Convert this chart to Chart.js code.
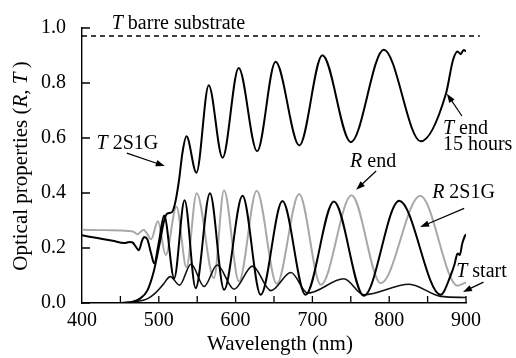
<!DOCTYPE html>
<html>
<head>
<meta charset="utf-8">
<script src="https://cdn.jsdelivr.net/npm/chart.js@4.4.0/dist/chart.umd.min.js"></script>
<style>
  html, body { margin: 0; padding: 0; background: #fff; }
  #wrap { width: 516px; height: 358px; }
</style>
</head>
<body>
<div id="wrap"><canvas id="spectra" width="516" height="358"></canvas></div>
<script>
// Values (wavelength in nm, optical property 0..1)
const substrateWl = [400, 918];
const substrateT  = [0.971, 0.971];

const tEndWl  = [450, 465, 475, 485, 493, 497, 502, 507, 511, 517, 521, 526, 531, 536, 549, 565, 583, 604, 628, 652, 683, 713, 750, 793, 841, 874, 883, 889, 893, 897, 900];
const tEndVal = [0.0, 0.004, 0.015, 0.045, 0.11, 0.16, 0.23, 0.30, 0.325, 0.33, 0.36, 0.44, 0.55, 0.606, 0.474, 0.792, 0.528, 0.855, 0.552, 0.877, 0.573, 0.901, 0.585, 0.921, 0.588, 0.762, 0.883, 0.915, 0.905, 0.92, 0.915];

const tStartWl  = [450, 470, 485, 495, 505, 515, 527, 542, 559, 576, 598, 622, 646, 672, 694, 741, 767, 826, 867, 900];
const tStartVal = [0.0, 0.005, 0.015, 0.035, 0.065, 0.096, 0.065, 0.142, 0.06, 0.138, 0.05, 0.134, 0.045, 0.111, 0.036, 0.088, 0.03, 0.068, 0.024, 0.02];

const r2s1gWl  = [400, 420, 440, 455, 462, 466, 470, 474, 478, 481, 485, 490, 494, 500, 507, 520, 533.6, 548, 566.6, 585, 609, 632.7, 661, 691, 728, 767, 813, 867, 880, 885, 889, 892, 895, 898, 900];
const r2s1gVal = [0.246, 0.236, 0.226, 0.218, 0.222, 0.22, 0.205, 0.192, 0.225, 0.24, 0.232, 0.18, 0.144, 0.22, 0.318, 0.09, 0.374, 0.054, 0.399, 0.048, 0.39, 0.03, 0.371, 0.03, 0.369, 0.026, 0.372, 0.03, 0.10, 0.14, 0.18, 0.175, 0.215, 0.24, 0.25];

const rEndWl  = [400, 430, 460, 468, 472, 476, 480, 484, 490, 498.8, 509, 523, 536, 549.3, 571.8, 584.9, 604.4, 627.5, 653.6, 682.7, 711, 751, 789, 840.4, 889, 900];
const rEndVal = [0.266, 0.265, 0.262, 0.258, 0.25, 0.258, 0.266, 0.255, 0.232, 0.297, 0.175, 0.35, 0.13, 0.399, 0.09, 0.41, 0.078, 0.408, 0.07, 0.396, 0.066, 0.392, 0.072, 0.39, 0.063, 0.075];

const xTickLabels = [400, 500, 600, 700, 800, 900];
const xTickMarks  = [450, 500, 550, 600, 650, 700, 750, 800, 850, 900];
const yTickLabels = [0, 0.2, 0.4, 0.6, 0.8, 1.0];

const serif = 'Liberation Serif';

function pts(xs, ys) {
  return xs.map((x, i) => ({ x: x, y: ys[i] }));
}

// text labels with arrows, anchored in data units
const notes = [
  { parts: [['T', 1], [' barre substrate', 0]], at: [438.7, 0.996] },
  { parts: [['T', 1], [' 2S1G', 0]], at: [419, 0.559], arrow: [[458.4, 0.545], [507.8, 0.498]] },
  { parts: [['R', 1], [' end', 0]], at: [749, 0.495], arrow: [[783, 0.48], [757, 0.412]] },
  { parts: [['R', 1], [' 2S1G', 0]], at: [855.9, 0.381], arrow: [[897.6, 0.344], [840.3, 0.276]] },
  { parts: [['T', 1], [' end', 0]], at: [869.9, 0.614], arrow: [[894.7, 0.68], [875.1, 0.761]] },
  { parts: [['15 hours', 0]], at: [869.9, 0.556] },
  { parts: [['T', 1], [' start', 0]], at: [887.2, 0.094], arrow: [[922.8, 0.076], [896, 0.04]] }
];

function richText(ctx, parts, x, y, size, centered) {
  let w = 0;
  parts.forEach(p => {
    ctx.font = (p[1] ? 'italic ' : '') + size + 'px "' + serif + '"';
    w += ctx.measureText(p[0]).width;
  });
  let cx = centered ? x - w / 2 : x;
  parts.forEach(p => {
    ctx.font = (p[1] ? 'italic ' : '') + size + 'px "' + serif + '"';
    ctx.fillText(p[0], cx, y);
    cx += ctx.measureText(p[0]).width;
  });
}

function arrow(ctx, x1, y1, x2, y2) {
  const a = Math.atan2(y2 - y1, x2 - x1);
  const L = 9, W = 3.2;
  ctx.beginPath();
  ctx.moveTo(x1, y1);
  ctx.lineTo(x2 - L * 0.8 * Math.cos(a), y2 - L * 0.8 * Math.sin(a));
  ctx.stroke();
  ctx.beginPath();
  ctx.moveTo(x2, y2);
  ctx.lineTo(x2 - L * Math.cos(a) + W * Math.sin(a), y2 - L * Math.sin(a) - W * Math.cos(a));
  ctx.lineTo(x2 - L * Math.cos(a) - W * Math.sin(a), y2 - L * Math.sin(a) + W * Math.cos(a));
  ctx.closePath();
  ctx.fill();
}

const decorations = {
  id: 'decorations',
  afterDraw(chart) {
    const ctx = chart.ctx;
    const xs = chart.scales.x, ys = chart.scales.y;
    const area = chart.chartArea;
    ctx.save();
    ctx.strokeStyle = '#000';
    ctx.fillStyle = '#000';
    ctx.lineWidth = 1.3;

    // inward tick marks
    ctx.beginPath();
    xTickMarks.forEach(v => {
      const px = xs.getPixelForValue(v);
      ctx.moveTo(px, area.bottom);
      ctx.lineTo(px, area.bottom - 7);
    });
    yTickLabels.forEach(v => {
      const py = ys.getPixelForValue(v);
      ctx.moveTo(area.left, py);
      ctx.lineTo(area.left + 8, py);
    });
    ctx.stroke();

    // annotations
    ctx.textBaseline = 'alphabetic';
    ctx.lineWidth = 1.2;
    notes.forEach(n => {
      richText(ctx, n.parts, xs.getPixelForValue(n.at[0]), ys.getPixelForValue(n.at[1]), 20, false);
      if (n.arrow) {
        arrow(ctx,
          xs.getPixelForValue(n.arrow[0][0]), ys.getPixelForValue(n.arrow[0][1]),
          xs.getPixelForValue(n.arrow[1][0]), ys.getPixelForValue(n.arrow[1][1]));
      }
    });

    // axis titles
    richText(ctx, [['Wavelength (nm)', 0]], 280, 350, 21, true);
    ctx.translate(21, 166);
    ctx.rotate(-Math.PI / 2);
    ctx.textBaseline = 'middle';
    richText(ctx, [['Optical properties (', 0], ['R', 1], [', ', 0], ['T', 1], ['\u2009)', 0]], 0, 0, 21, true);
    ctx.restore();
  }
};

const line = (data, color, width, order) => ({
  data: data,
  borderColor: color,
  borderWidth: width,
  pointRadius: 0,
  fill: false,
  cubicInterpolationMode: 'monotone',
  order: order
});

const datasets = [
  Object.assign(line(pts(substrateWl, substrateT), '#000', 1.3, 0), { borderDash: [5, 4], clip: false, cubicInterpolationMode: 'default' }),
  line(pts(tEndWl, tEndVal), '#000', 2, 1),
  line(pts(r2s1gWl, r2s1gVal), '#000', 2, 2),
  line(pts(tStartWl, tStartVal), '#111', 1.6, 3),
  line(pts(rEndWl, rEndVal), '#a8a8a8', 2, 10)
];

Chart.defaults.color = '#000';
Chart.defaults.font.family = serif;
Chart.defaults.font.size = 20;

new Chart(document.getElementById('spectra'), {
  type: 'line',
  data: { datasets: datasets },
  options: {
    responsive: false,
    animation: false,
    layout: { padding: { top: 24, right: 50, left: 0, bottom: 0 } },
    plugins: { legend: { display: false }, tooltip: { enabled: false } },
    scales: {
      x: {
        type: 'linear',
        min: 400,
        max: 900,
        afterFit(s) { s.height = 55; },
        grid: { display: false, drawTicks: false },
        border: { display: true, color: '#000', width: 1.4 },
        ticks: {
          stepSize: 100,
          padding: 6,
          color: '#000',
          font: { family: serif, size: 20 },
          callback: v => xTickLabels.includes(v) ? String(v) : ''
        }
      },
      y: {
        min: 0,
        max: 1,
        afterFit(s) { s.width = 82; },
        grid: { display: false, drawTicks: false },
        border: { display: true, color: '#000', width: 1.4 },
        ticks: {
          stepSize: 0.2,
          padding: 16,
          color: '#000',
          font: { family: serif, size: 20 },
          callback: v => yTickLabels.some(t => Math.abs(t - v) < 1e-6) ? v.toFixed(1) : ''
        }
      }
    }
  },
  plugins: [decorations]
});
</script>
</body>
</html>
